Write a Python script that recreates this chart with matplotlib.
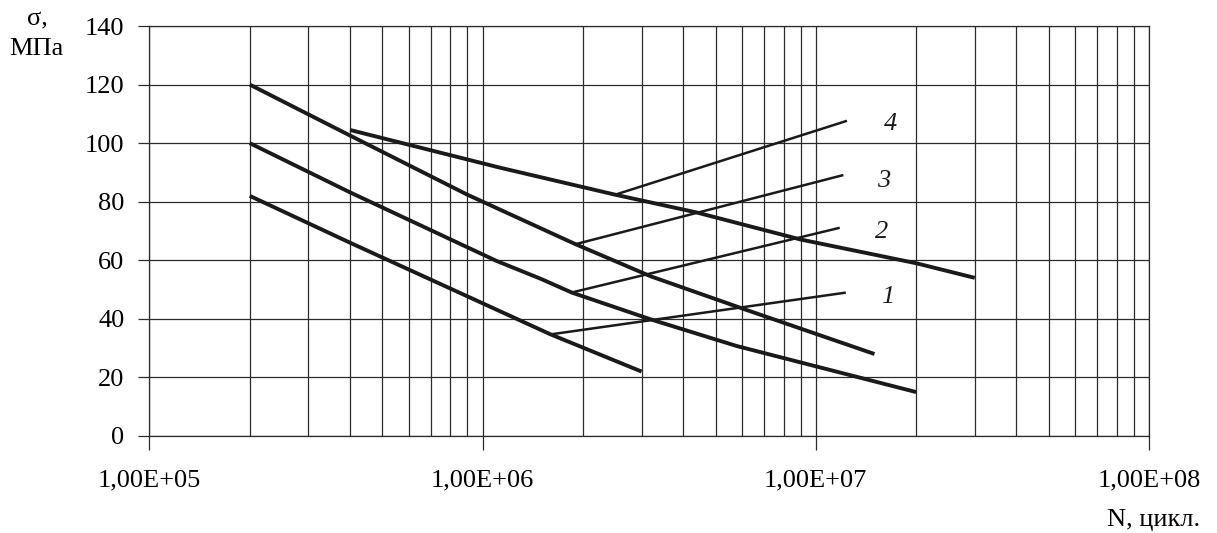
import matplotlib
matplotlib.use("Agg")
import matplotlib.pyplot as plt
from matplotlib.ticker import FixedLocator, FuncFormatter, LogLocator, NullFormatter

# ---- data ----
curve_a_n = [2e5, 4e5, 9e5, 1.9e6, 3.2e6, 6.1e6, 1.5e7]
curve_a_s = [120, 102.6, 82.4, 65.5, 54.5, 43.3, 28]

curve_b_n = [2e5, 4e5, 1.1e6, 1.5e6, 1.85e6, 3.2e6, 5.8e6, 2e7]
curve_b_s = [100, 83.2, 59.8, 53.6, 49, 39.8, 30.7, 15]

curve_c_n = [2e5, 4e5, 1.6e6, 3e6]
curve_c_s = [82, 66, 34.7, 22]

curve_d_n = [4e5, 1.13e6, 2.5e6, 4.4e6, 9e6, 2e7, 3e7]
curve_d_s = [104.5, 91.6, 82.4, 76.3, 67.1, 59, 54]

ray_labels = ["1", "2", "3", "4"]
ray_n = [[1.6e6, 1.22e7], [1.85e6, 1.17e7], [1.9e6, 1.2e7], [2.5e6, 1.23e7]]
ray_s = [[34.7, 48.9], [49, 71], [65.5, 89], [82.4, 107.5]]
label_n = [1.64e7, 1.58e7, 1.6e7, 1.68e7]
label_s = [47.5, 69.5, 87.2, 106.5]

x_ticks = [1e5, 1e6, 1e7, 1e8]
y_ticks = [0, 20, 40, 60, 80, 100, 120, 140]

serif = "Liberation Serif"

fig = plt.figure(figsize=(12.17, 5.33), dpi=100)
ax = fig.add_axes([0.1228, 0.182, 0.8213, 0.7692])
ax.set_xscale("log")
ax.set_xlim(1e5, 1e8)
ax.set_ylim(0, 140)

grid_col = "#2b2b2b"
ax.xaxis.set_major_locator(FixedLocator(x_ticks))
ax.xaxis.set_minor_locator(LogLocator(base=10, subs=range(2, 10)))
ax.xaxis.set_minor_formatter(NullFormatter())
ax.xaxis.set_major_formatter(FuncFormatter(
    lambda v, p: ("%.2E" % v).replace(".", ",")))
ax.yaxis.set_major_locator(FixedLocator(y_ticks))

ax.grid(True, which="major", axis="both", color=grid_col, lw=0.9)
ax.grid(True, which="minor", axis="x", color=grid_col, lw=0.9)
ax.set_axisbelow(True)

ax.tick_params(axis="x", which="major", direction="out", length=10, width=0.9,
               color=grid_col, pad=14, labelsize=19)
ax.tick_params(axis="x", which="minor", length=0)
ax.tick_params(axis="y", which="major", direction="out", length=8, width=0.9,
               color=grid_col, pad=10, labelsize=19)
for lab in ax.get_xticklabels() + ax.get_yticklabels():
    lab.set_fontfamily(serif)

for sp in ax.spines.values():
    sp.set_color(grid_col)
    sp.set_linewidth(0.9)

for n, s in [(curve_a_n, curve_a_s), (curve_b_n, curve_b_s),
             (curve_c_n, curve_c_s), (curve_d_n, curve_d_s)]:
    ax.plot(n, s, color="#1a1a1a", lw=2.8, solid_capstyle="butt", zorder=3)

for lab, n, s, ln, ls in zip(ray_labels, ray_n, ray_s, label_n, label_s):
    ax.plot(n, s, color="#1a1a1a", lw=1.8, zorder=3)
    ax.text(ln, ls, lab, fontfamily=serif, style="italic", fontsize=19,
            ha="center", va="center", color="#1a1a1a")

fig.text(37 / 1217, 1 - 19 / 533, "σ,", fontfamily=serif, fontsize=19,
         ha="center", va="center")
fig.text(36 / 1217, 1 - 49 / 533, "МПа", fontfamily=serif, fontsize=19,
         ha="center", va="center")
fig.text(1200 / 1217, 1 - 520 / 533, "N, цикл.", fontfamily=serif, fontsize=19,
         ha="right", va="center")

fig.savefig("out.png", dpi=100, facecolor="white")
